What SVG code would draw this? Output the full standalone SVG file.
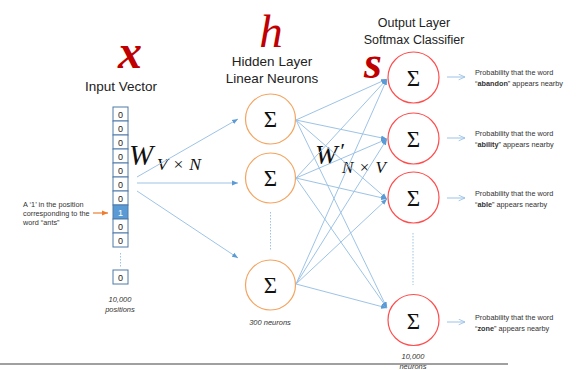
<svg xmlns="http://www.w3.org/2000/svg" width="581" height="370" viewBox="0 0 581 370">
<style>
.lbl{font-family:"Liberation Sans","Open Sans",sans-serif;fill:#222;}
.big{font-family:"Liberation Serif","Times New Roman",serif;fill:#c00000;font-style:italic;}
.cell{fill:#fff;stroke:#4f7aa8;stroke-width:1;}
.cellt{font-family:"Liberation Sans",sans-serif;font-size:9px;fill:#222;text-anchor:middle;}
.hid{fill:#fff;stroke:#f4a460;stroke-width:1.2;}
.out{fill:#fff;stroke:#ff4d4d;stroke-width:1.2;}
.sig{font-family:"Liberation Serif","DejaVu Serif",serif;font-size:23px;fill:#111;text-anchor:middle;}
.con{stroke:#9dc3e6;stroke-width:1;fill:none;}
.sm{font-family:"Liberation Sans",sans-serif;font-size:7.3px;fill:#333;}
.it{font-family:"Liberation Sans",sans-serif;font-size:7.5px;font-style:italic;fill:#333;text-anchor:middle;}
.math{font-family:"Liberation Serif","Times New Roman",serif;font-style:italic;fill:#111;}
</style>
<defs>
<marker id="ah" viewBox="0 0 10 10" refX="10" refY="5" markerWidth="6" markerHeight="6" markerUnits="userSpaceOnUse" orient="auto">
<path d="M0,1 L10,5 L0,9 z" fill="#5b9bd5"/>
</marker>
<marker id="ao" viewBox="0 0 10 10" refX="10" refY="5" markerWidth="7" markerHeight="7" markerUnits="userSpaceOnUse" orient="auto">
<path d="M1,1 L10,5 L1,9" fill="none" stroke="#9dc3e6" stroke-width="1.3"/>
</marker>
<marker id="aor" viewBox="0 0 10 10" refX="10" refY="5" markerWidth="6" markerHeight="6" markerUnits="userSpaceOnUse" orient="auto">
<path d="M0,1 L10,5 L0,9 z" fill="#ed7d31"/>
</marker>
</defs>

<!-- titles -->
<g id="title-x">
<text class="big" x="130" y="68" font-size="48" font-weight="bold" text-anchor="middle">x</text>
<text class="lbl" x="121" y="91" font-size="13.5" text-anchor="middle">Input Vector</text>
</g>
<g id="title-h">
<text class="big" x="271" y="47" font-size="47" text-anchor="middle">h</text>
<text class="lbl" x="272" y="66" font-size="13.5" text-anchor="middle">Hidden Layer</text>
<text class="lbl" x="272" y="83" font-size="13.5" text-anchor="middle">Linear Neurons</text>
</g>
<g id="title-s">
<text class="lbl" x="414" y="27" font-size="12.5" text-anchor="middle">Output Layer</text>
<text class="lbl" x="414" y="44" font-size="12.5" text-anchor="middle">Softmax Classifier</text>
<text class="big" x="373" y="78" font-size="46" font-weight="bold" text-anchor="middle">s</text>
</g>

<!-- input vector -->
<g id="input-vector">
<rect class="cell" x="113" y="107" width="15" height="14"/><text class="cellt" x="120.5" y="117.5">0</text>
<rect class="cell" x="113" y="121" width="15" height="14"/><text class="cellt" x="120.5" y="131.5">0</text>
<rect class="cell" x="113" y="135" width="15" height="14"/><text class="cellt" x="120.5" y="145.5">0</text>
<rect class="cell" x="113" y="149" width="15" height="14"/><text class="cellt" x="120.5" y="159.5">0</text>
<rect class="cell" x="113" y="163" width="15" height="14"/><text class="cellt" x="120.5" y="173.5">0</text>
<rect class="cell" x="113" y="177" width="15" height="14"/><text class="cellt" x="120.5" y="187.5">0</text>
<rect class="cell" x="113" y="191" width="15" height="14"/><text class="cellt" x="120.5" y="201.5">0</text>
<rect class="cell" x="113" y="205" width="15" height="14" style="fill:#5b9bd5"/><text class="cellt" x="120.5" y="215.5" style="fill:#fff">1</text>
<rect class="cell" x="113" y="219" width="15" height="14"/><text class="cellt" x="120.5" y="229.5">0</text>
<rect class="cell" x="113" y="233" width="15" height="14"/><text class="cellt" x="120.5" y="243.5">0</text>
<line x1="120.5" y1="253" x2="120.5" y2="267" stroke="#9dc3e6" stroke-width="1" stroke-dasharray="1.5,1.5"/>
<rect class="cell" x="113" y="270" width="15" height="14"/><text class="cellt" x="120.5" y="280.5">0</text>
<text class="it" x="120" y="302">10,000</text>
<text class="it" x="120" y="312">positions</text>
</g>

<g id="ants-note">
<text class="sm" x="23" y="207">A ‘1’ in the position</text>
<text class="sm" x="23" y="216">corresponding to the</text>
<text class="sm" x="23" y="225">word “ants”</text>
<line x1="93" y1="213" x2="108" y2="213" stroke="#ed7d31" stroke-width="1.2" marker-end="url(#aor)"/>
</g>

<!-- weight labels -->
<g id="w-in">
<text class="math" x="129" y="165" font-size="29">W</text>
<text class="math" x="157" y="170" font-size="17.5" textLength="44" lengthAdjust="spacing">V<tspan font-style="normal">×</tspan>N</text>
</g>
<g id="w-out">
<text class="math" x="315" y="164" font-size="27">W</text>
<text class="math" x="339" y="158" font-size="22" font-style="normal">′</text>
<text class="math" x="342" y="173" font-size="17" textLength="44" lengthAdjust="spacing">N<tspan font-style="normal">×</tspan>V</text>
</g>

<!-- connectors -->
<g id="connectors">
<line class="con" x1="137" y1="177" x2="238" y2="119" marker-end="url(#ah)"/>
<line class="con" x1="137" y1="183" x2="238" y2="183" marker-end="url(#ah)"/>
<line class="con" x1="137" y1="191" x2="238" y2="258" marker-end="url(#ah)"/>

<line class="con" x1="296" y1="120" x2="387" y2="79" marker-end="url(#ah)"/>
<line class="con" x1="296" y1="120" x2="387" y2="139" marker-end="url(#ah)"/>
<line class="con" x1="296" y1="120" x2="387" y2="199" marker-end="url(#ah)"/>
<line class="con" x1="296" y1="120" x2="387" y2="308" marker-end="url(#ah)"/>
<line class="con" x1="296" y1="178" x2="387" y2="79" marker-end="url(#ah)"/>
<line class="con" x1="296" y1="178" x2="387" y2="139" marker-end="url(#ah)"/>
<line class="con" x1="296" y1="178" x2="387" y2="199" marker-end="url(#ah)"/>
<line class="con" x1="296" y1="178" x2="387" y2="308" marker-end="url(#ah)"/>
<line class="con" x1="296" y1="284" x2="387" y2="79" marker-end="url(#ah)"/>
<line class="con" x1="296" y1="284" x2="387" y2="139" marker-end="url(#ah)"/>
<line class="con" x1="296" y1="284" x2="387" y2="199" marker-end="url(#ah)"/>
<line class="con" x1="296" y1="284" x2="387" y2="308" marker-end="url(#ah)"/>

<line class="con" x1="447" y1="77" x2="465" y2="77" marker-end="url(#ao)"/>
<line class="con" x1="447" y1="138" x2="465" y2="138" marker-end="url(#ao)"/>
<line class="con" x1="447" y1="198" x2="465" y2="198" marker-end="url(#ao)"/>
<line class="con" x1="447" y1="322" x2="465" y2="322" marker-end="url(#ao)"/>
</g>

<!-- hidden neurons -->
<g id="hidden-1"><circle class="hid" cx="270.5" cy="119" r="25"/><text class="sig" x="270.5" y="127">Σ</text></g>
<g id="hidden-2"><circle class="hid" cx="270.5" cy="178" r="25"/><text class="sig" x="270.5" y="186">Σ</text></g>
<line x1="270.5" y1="212" x2="270.5" y2="250" stroke="#9dc3e6" stroke-width="1" stroke-dasharray="1.5,1.5"/>
<g id="hidden-3"><circle class="hid" cx="270.5" cy="285" r="25"/><text class="sig" x="270.5" y="293">Σ</text></g>
<text class="it" x="270" y="325">300 neurons</text>

<!-- output neurons -->
<g id="out-1"><circle class="out" cx="413.5" cy="77.5" r="25.5"/><text class="sig" x="413.5" y="86">Σ</text></g>
<g id="out-2"><circle class="out" cx="413.5" cy="138.5" r="25.5"/><text class="sig" x="413.5" y="147">Σ</text></g>
<g id="out-3"><circle class="out" cx="413.5" cy="197.5" r="25.5"/><text class="sig" x="413.5" y="206">Σ</text></g>
<line x1="413" y1="233" x2="413" y2="285" stroke="#9dc3e6" stroke-width="1" stroke-dasharray="1.5,1.5"/>
<g id="out-4"><circle class="out" cx="413.5" cy="320" r="25.5"/><text class="sig" x="413.5" y="328.5">Σ</text></g>
<text class="it" x="413" y="359">10,000</text>
<text class="it" x="413" y="369">neurons</text>

<!-- output labels -->
<g id="label-abandon">
<text class="sm" x="475" y="75" font-size="8">Probability that the word</text>
<text class="sm" x="475" y="86" font-size="8">“<tspan font-weight="bold">abandon</tspan>” appears nearby</text>
</g>
<g id="label-ability">
<text class="sm" x="475" y="136" font-size="8">Probability that the word</text>
<text class="sm" x="475" y="147" font-size="8">“<tspan font-weight="bold">ability</tspan>” appears nearby</text>
</g>
<g id="label-able">
<text class="sm" x="475" y="196" font-size="8">Probability that the word</text>
<text class="sm" x="475" y="207" font-size="8">“<tspan font-weight="bold">able</tspan>” appears nearby</text>
</g>
<g id="label-zone">
<text class="sm" x="475" y="320" font-size="8">Probability that the word</text>
<text class="sm" x="475" y="331" font-size="8">“<tspan font-weight="bold">zone</tspan>” appears nearby</text>
</g>

<line x1="0" y1="364" x2="508" y2="364" stroke="#808080" stroke-width="1.5"/>
</svg>
